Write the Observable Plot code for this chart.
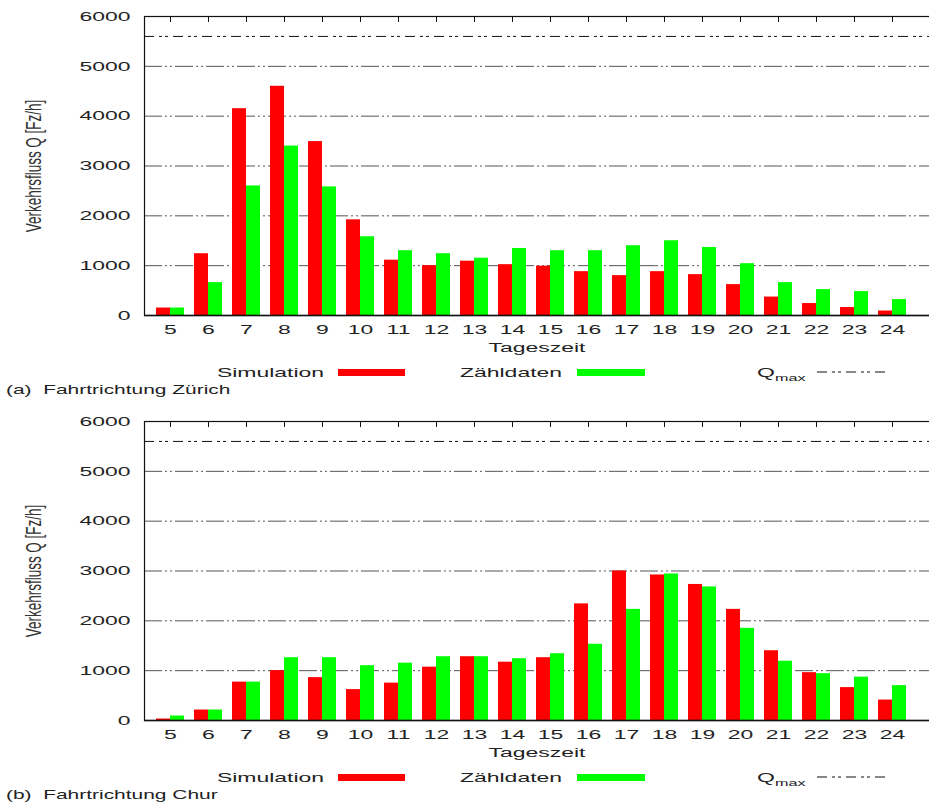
<!DOCTYPE html>
<html>
<head>
<meta charset="utf-8">
<script src="https://cdn.jsdelivr.net/npm/d3@7"></script>
<script src="https://cdn.jsdelivr.net/npm/@observablehq/plot@0.6"></script>
<style>
  body { margin: 0; background: #fff; font-family: "Liberation Sans", Arial, sans-serif; color: #222; }
  .panel { position: relative; width: 929px; height: 405px; }
  .panel svg.chart { position: absolute; left: 0; top: 0; }
  .lt { position: absolute; font-size: 13.5px; line-height: 16px; white-space: pre; }
  .sw { position: absolute; height: 7px; }
</style>
</head>
<body>
<div id="root"></div>
<script>
const hours = [5, 6, 7, 8, 9, 10, 11, 12, 13, 14, 15, 16, 17, 18, 19, 20, 21, 22, 23, 24];
const simZurich   = [150, 1240, 4150, 4600, 3490, 1920, 1110, 1000, 1090, 1020, 990, 880, 800, 880, 820, 620, 370, 240, 160, 90];
const countZurich = [150, 660, 2600, 3400, 2580, 1580, 1300, 1240, 1150, 1345, 1300, 1300, 1400, 1500, 1365, 1040, 660, 520, 480, 320];
const simChur     = [30, 210, 770, 1000, 860, 620, 750, 1070, 1280, 1170, 1260, 2340, 3000, 2920, 2730, 2230, 1400, 960, 660, 410];
const countChur   = [90, 210, 770, 1260, 1260, 1100, 1150, 1280, 1280, 1240, 1340, 1530, 2230, 2940, 2680, 1850, 1190, 940, 870, 700];
const qmax = 5600;
const yTicks = [0, 1000, 2000, 3000, 4000, 5000, 6000];
const gridTicks = [1000, 2000, 3000, 4000, 5000];
const yLabel = "Verkehrsfluss Q [Fz/h]";
const xLabel = "Tageszeit";
const seriesNames = ["Simulation", "Zähldaten"];
const captions = ["(a)  Fahrtrichtung Zürich", "(b)  Fahrtrichtung Chur"];

const STRETCH = 1.7;

function stretchText(svg, s) {
  svg.querySelectorAll("text").forEach(t => {
    const tr = t.getAttribute("transform");
    if (tr) {
      t.setAttribute("transform", tr + (tr.includes("rotate") ? ` scale(1,${s})` : ` scale(${s},1)`));
    } else {
      const x = +t.getAttribute("x") || 0, y = +t.getAttribute("y") || 0;
      t.setAttribute("transform", `translate(${x},${y}) scale(${s},1) translate(${-x},${-y})`);
    }
  });
}

function panel(sim, cnt, caption) {
  const data = hours.map((h, i) => ({hour: h, sim: sim[i], cnt: cnt[i]}));
  const chart = Plot.plot({
    width: 929,
    height: 360,
    marginLeft: 144,
    marginRight: 0,
    marginTop: 16,
    marginBottom: 45,
    style: {fontFamily: "'Liberation Sans', Arial, sans-serif", fontSize: "13.5px", color: "#222", background: "#fff"},
    x: {type: "band", domain: hours, range: [144, 917], paddingInner: 0.272, paddingOuter: 0.182, axis: null},
    y: {domain: [0, 6000], axis: null},
    marks: [
      Plot.ruleY(gridTicks, {stroke: "#555", strokeWidth: 1, strokeDasharray: "18,3,2,3,2,3"}),
      Plot.barY(data, {x: "hour", y: "sim", fill: "#ff0000", insetRight: 14, insetLeft: 0}),
      Plot.barY(data, {x: "hour", y: "cnt", fill: "#00ff00", insetLeft: 14, insetRight: 0}),
      Plot.ruleY([qmax], {stroke: "#111", strokeWidth: 1, strokeDasharray: "10,5,3,3,3,5"}),
      Plot.ruleY([0], {stroke: "#111", strokeWidth: 1.5}),
      Plot.frame({stroke: "#111", strokeWidth: 1.2, insetRight: -3}),
      Plot.axisX({anchor: "top", tickSize: 5, dy: 5, tickFormat: () => "", label: null, stroke: "#111"}),
      Plot.axisX({anchor: "bottom", tickSize: 0, tickPadding: 9, label: xLabel, labelAnchor: "center", labelOffset: 36, fill: "#222"}),
      Plot.axisY(yTicks, {anchor: "left", tickSize: 0, tickPadding: 14, tickFormat: d => String(d), label: null, fill: "#222"}),
      Plot.text([yLabel], {text: d => d, frameAnchor: "left", textAnchor: "middle", rotate: -90, dx: -111, fill: "#333"})
    ]
  });
  chart.classList.add("chart");
  stretchText(chart, STRETCH);

  const div = document.createElement("div");
  div.className = "panel";
  div.appendChild(chart);

  const add = (html, style) => {
    const e = document.createElement("div");
    e.className = "lt";
    e.innerHTML = html;
    Object.assign(e.style, style);
    div.appendChild(e);
    return e;
  };
  add(seriesNames[0], {right: (929 - 324) + "px", top: "365px", transform: `scaleX(${STRETCH})`, transformOrigin: "right center"});
  add(seriesNames[1], {right: (929 - 562) + "px", top: "365px", transform: `scaleX(${STRETCH})`, transformOrigin: "right center"});
  add('Q<sub style="font-size:9.5px;vertical-align:-4px">max</sub>', {right: (929 - 805) + "px", top: "365px", transform: `scaleX(${STRETCH})`, transformOrigin: "right center"});
  add(caption, {left: "6px", top: "382px", transform: `scaleX(1.55)`, transformOrigin: "left center"});

  const sw1 = document.createElement("div");
  sw1.className = "sw";
  Object.assign(sw1.style, {left: "338px", width: "67px", top: "369px", background: "#ff0000"});
  div.appendChild(sw1);
  const sw2 = document.createElement("div");
  sw2.className = "sw";
  Object.assign(sw2.style, {left: "577px", width: "68px", top: "369px", background: "#00ff00"});
  div.appendChild(sw2);

  const ns = "http://www.w3.org/2000/svg";
  const ls = document.createElementNS(ns, "svg");
  ls.setAttribute("width", 72); ls.setAttribute("height", 4);
  ls.style.position = "absolute"; ls.style.left = "817px"; ls.style.top = "370px";
  const ln = document.createElementNS(ns, "line");
  ln.setAttribute("x1", 0); ln.setAttribute("x2", 72); ln.setAttribute("y1", 2); ln.setAttribute("y2", 2);
  ln.setAttribute("stroke", "#111"); ln.setAttribute("stroke-width", 1);
  ln.setAttribute("stroke-dasharray", "10,5,3,3,3,5");
  ls.appendChild(ln);
  div.appendChild(ls);
  return div;
}

const root = document.getElementById("root");
root.appendChild(panel(simZurich, countZurich, captions[0]));
root.appendChild(panel(simChur, countChur, captions[1]));
</script>
</body>
</html>
